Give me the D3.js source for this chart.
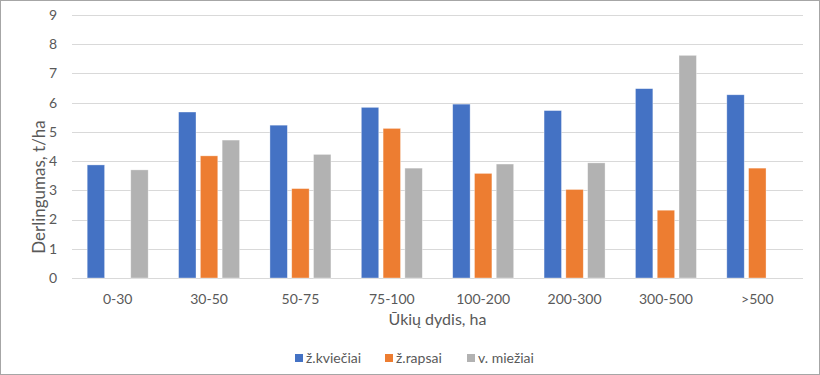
<!DOCTYPE html>
<html>
<head>
<meta charset="utf-8">
<script src="https://cdn.jsdelivr.net/npm/d3@7"></script>
<style>
    body { margin: 0; background: #fff; }
    svg { font-family: Lato, "Open Sans", sans-serif; }
    .tick-label { fill: #595959; font-size: 14px; }
    .axis-title { fill: #595959; font-size: 16px; }
    .legend-text { fill: #595959; font-size: 14px; }
</style>
</head>
<body>
<div id="chart"></div>
<script>
// data
let categories = ["0-30", "30-50", "50-75", "75-100", "100-200", "200-300", "300-500", ">500"];
let seriesNames = ["ž.kviečiai", "ž.rapsai", "v. miežiai"];
let kvieciai = [3.87, 5.68, 5.23, 5.84, 5.95, 5.73, 6.48, 6.27];
let rapsai = [null, 4.18, 3.06, 5.12, 3.58, 3.03, 2.32, 3.76];
let miežiai = [3.70, 4.72, 4.23, 3.76, 3.90, 3.94, 7.62, null];
let yTicks = [0, 1, 2, 3, 4, 5, 6, 7, 8, 9];
let colors = ["#4472C4", "#ED7D31", "#B2B2B2"];

let width = 820, height = 375;
let margin = {left: 72, right: 17, top: 15, bottom: 97};

let svg = d3.select("#chart").append("svg").attr("width", width).attr("height", height);

svg.append("rect").attr("x", 0.5).attr("y", 0.5).attr("width", width - 1).attr("height", height - 1)
    .attr("fill", "#fff").attr("stroke", "#a6a6a6");

let x = d3.scaleBand().domain(categories).range([margin.left, width - margin.right]);
let y = d3.scaleLinear().domain([0, 9]).range([height - margin.bottom, margin.top]);
let inner = d3.scaleBand().domain(seriesNames).range([0, 61]).paddingInner(0.2);

// grid
svg.append("g").selectAll("line").data(yTicks).join("line")
    .attr("x1", margin.left).attr("x2", width - margin.right)
    .attr("y1", d => Math.round(y(d)) + 0.5).attr("y2", d => Math.round(y(d)) + 0.5)
    .attr("stroke", "#d9d9d9").attr("stroke-width", 1);

svg.append("g").selectAll("text").data(yTicks).join("text")
    .classed("tick-label", true)
    .attr("x", 57).attr("y", d => y(d)).attr("dy", "0.35em").attr("text-anchor", "end")
    .text(d => d);

// bars
let series = [kvieciai, rapsai, miežiai];
series.forEach((vals, i) => {
    let data = categories.map((c, j) => ({cat: c, v: vals[j]})).filter(d => d.v !== null);
    svg.append("g").selectAll("rect").data(data).join("rect")
        .attr("x", d => x(d.cat) + x.bandwidth() / 2 - 30.5 + inner(seriesNames[i]))
        .attr("y", d => y(d.v))
        .attr("width", inner.bandwidth())
        .attr("height", d => y(0) - y(d.v))
        .attr("fill", colors[i])
        .attr("stroke", "#fff").attr("stroke-opacity", 0.5).attr("stroke-width", 0.7);
});

svg.append("g").selectAll("text").data(categories).join("text")
    .classed("tick-label", true)
    .attr("x", d => x(d) + x.bandwidth() / 2).attr("y", 304).attr("text-anchor", "middle")
    .text(d => d);

svg.append("text").classed("axis-title", true)
    .attr("x", (margin.left + width - margin.right) / 2).attr("y", 325).attr("text-anchor", "middle")
    .text("Ūkių dydis, ha");

svg.append("text").classed("axis-title", true)
    .style("font-size", "17px")
    .attr("transform", "translate(45,187) rotate(-90)").attr("text-anchor", "middle")
    .text("Derlingumas, t/ha");

// legend
let legendX = [295, 385, 467];
let legend = svg.append("g").selectAll("g").data(seriesNames).join("g")
    .attr("transform", (d, i) => "translate(" + legendX[i] + ",354)");
legend.append("rect").attr("width", 8).attr("height", 8).attr("fill", (d, i) => colors[i]);
legend.append("text").classed("legend-text", true).attr("x", 11).attr("y", 4).attr("dy", "0.35em").text(d => d);
</script>
</body>
</html>
